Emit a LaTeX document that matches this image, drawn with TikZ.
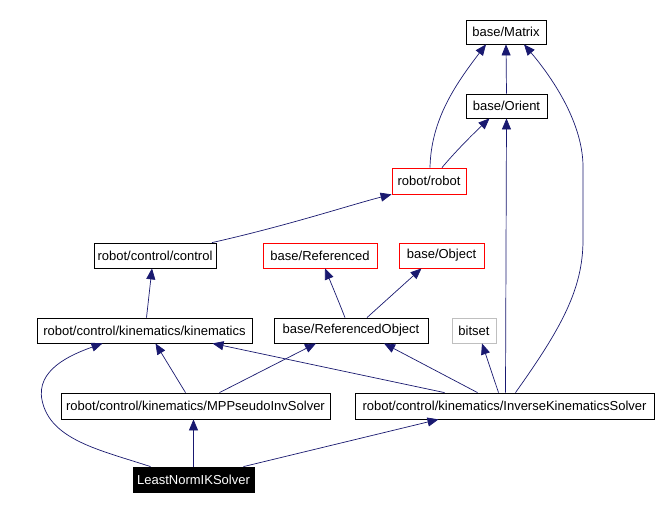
\documentclass[tikz,border=0pt]{standalone}
\usepackage{fontspec}
\setmainfont{Liberation Sans}
\usetikzlibrary{arrows.meta}
\definecolor{edgeblue}{HTML}{191970}
\definecolor{grayborder}{HTML}{BFBFBF}
\tikzset{
  box/.style={draw=black, line width=0.8pt, inner sep=0pt, minimum height=25pt, font=\fontsize{13}{15}\selectfont},
  redbox/.style={box, draw=red},
  graybox/.style={box, draw=grayborder},
  mainbox/.style={box, fill=black, text=white},
  dep/.style={draw=edgeblue, line width=0.7pt, -{Triangle[length=11pt,width=9pt]}, edgeblue}
}
\begin{document}
\begin{tikzpicture}[x=1pt,y=-1pt]
\useasboundingbox (0,0) rectangle (659,510);
\fill[white] (0,0) rectangle (659,510);
\node[box, minimum width=80pt, minimum height=24pt] (matrix) at (506,32) {base/Matrix};
\node[box, minimum width=81pt, minimum height=24pt] (orient) at (506.5,106) {base/Orient};
\node[redbox, minimum width=74pt, minimum height=26pt] (robot) at (429,181) {robot/robot};
\node[box, minimum width=122pt] (control) at (155,255.5) {robot/control/control};
\node[redbox, minimum width=114pt] (referenced) at (320,255.5) {base/Referenced};
\node[redbox, minimum width=85pt] (object) at (441.5,255.5) {base/Object};
\node[box, minimum width=215pt] (kinematics) at (144.5,330.5) {robot/control/kinematics/kinematics};
\node[box, minimum width=154pt] (refobj) at (351,330.5) {base/ReferencedObject};
\node[graybox, minimum width=44pt] (bitset) at (474,330.5) {bitset};
\node[box, minimum width=269pt, minimum height=26pt] (mpp) at (195.5,406) {robot/control/kinematics/MPPseudoInvSolver};
\node[box, minimum width=299pt, minimum height=26pt] (iks) at (504.5,406) {robot/control/kinematics/InverseKinematicsSolver};
\node[mainbox, minimum width=121pt] (lnik) at (193.5,479.5) {LeastNormIKSolver};

\draw[dep] (orient.north) -- (matrix.south);
\draw[dep] ([xshift=1pt]robot.north) .. controls (431,120) and (455,85) .. ([xshift=-20pt]matrix.south);
\draw[dep] ([xshift=13pt]robot.north) .. controls (455,152) and (472,135) .. ([xshift=-17pt]orient.south);
\draw[dep] ([xshift=57pt]control.north) .. controls (290,225) and (350,205) .. (robot.south west);
\draw[dep] ([xshift=2pt]kinematics.north) -- ([xshift=-3pt]control.south);
\draw[dep] ([xshift=-6pt]refobj.north) .. controls (338,300) .. ([xshift=5pt]referenced.south);
\draw[dep] ([xshift=16pt]refobj.north) -- ([xshift=-20pt]object.south);
\draw[dep] ([xshift=-10pt]mpp.north) -- ([xshift=11pt]kinematics.south);
\draw[dep] ([xshift=24pt]mpp.north) -- ([xshift=-35pt]refobj.south);
\draw[dep] ([xshift=-60pt]iks.north) -- ([xshift=68pt]kinematics.south);
\draw[dep] ([xshift=-27pt]iks.north) -- ([xshift=33pt]refobj.south);
\draw[dep] ([xshift=-6pt]iks.north) -- ([xshift=8pt]bitset.south);
\draw[dep] ([xshift=1pt]iks.north) -- (orient.south);
\draw[dep] ([xshift=11pt]iks.north) .. controls (560,330) and (583,290) .. (583,240) -- (583,165) .. controls (582,120) and (550,75) .. ([xshift=18pt]matrix.south);
\draw[dep] (lnik.north) -- ([xshift=-2pt]mpp.south);
\draw[dep] ([xshift=50pt]lnik.north) -- ([xshift=-66pt]iks.south);
\draw[dep] ([xshift=-43pt]lnik.north) .. controls (100,450) and (50,440) .. (42,400) .. controls (36,370) and (70,355) .. ([xshift=-42pt]kinematics.south);
\end{tikzpicture}
\end{document}
